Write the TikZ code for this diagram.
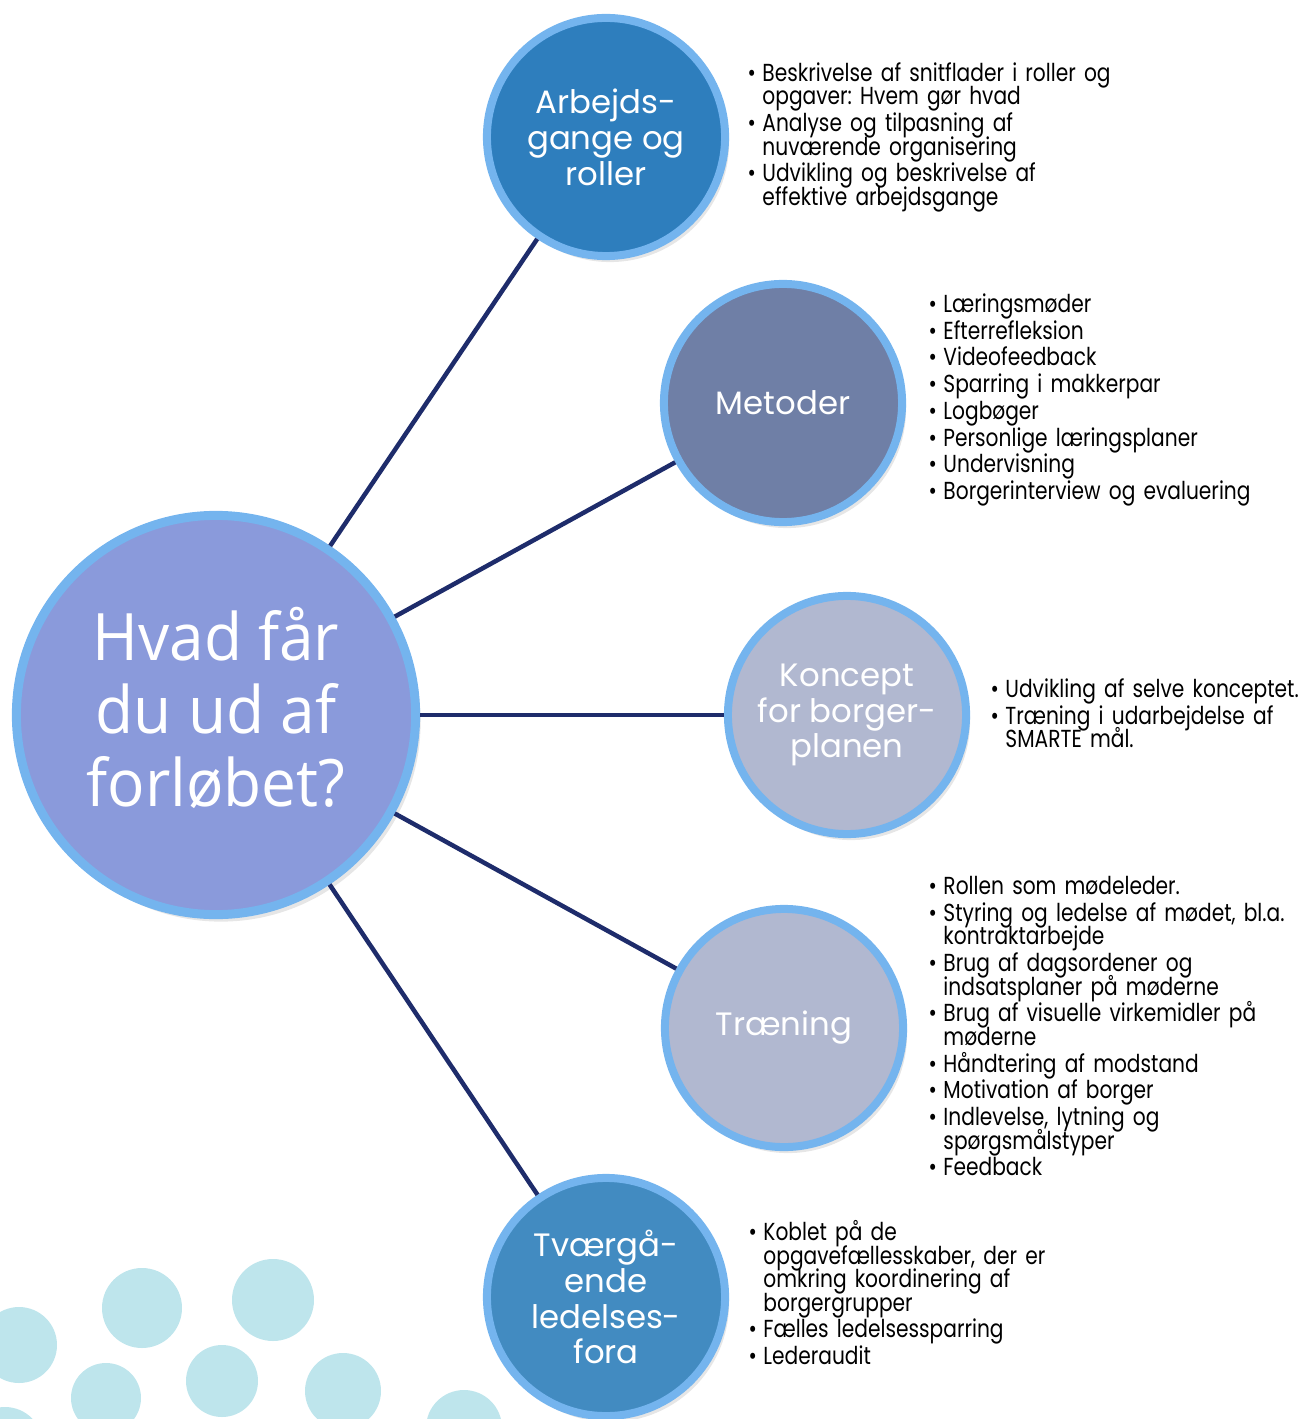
\documentclass[tikz,border=0pt]{standalone}
\usepackage{fontspec}
\setmainfont{Poppins}[FakeStretch=0.82]
\newfontfamily\emnefont{Poppins}
\newfontfamily\hubfont{Open Sans}[FakeStretch=0.95]
\usetikzlibrary{shadows}

\definecolor{ring}{RGB}{116,180,238}
\definecolor{hubfarve}{RGB}{138,154,219}
\definecolor{arbfarve}{RGB}{46,126,189}
\definecolor{metfarve}{RGB}{111,127,166}
\definecolor{lysfarve}{RGB}{177,184,208}
\definecolor{tvfarve}{RGB}{66,139,193}
\definecolor{streg}{RGB}{30,44,107}
\definecolor{prikfarve}{RGB}{190,229,236}

\newcommand{\pkt}{\par\noindent\hangindent=4.2pt\hangafter=1\relax\rule{0pt}{6.5pt}\makebox[4.2pt][l]{\textbullet}}
\newcommand{\listeopsaet}{\frenchspacing\lineskiplimit=-10pt\relax\parskip=0.9pt\relax}

\begin{document}
\begin{tikzpicture}[x=0.01cm,y=-0.01cm,
	hub/.style={circle,draw=ring,line width=0.09cm,fill=hubfarve,minimum size=3.99cm,inner sep=0pt,
		drop shadow={shadow xshift=0.5mm,shadow yshift=-0.7mm,opacity=0.2}},
	hubtekst/.style={align=center,text=white,inner sep=0pt,font=\hubfont\fontsize{18.6}{20.7}\selectfont},
	emne/.style={circle,draw=ring,line width=0.08cm,minimum size=2.38cm,inner sep=0pt,
		align=center,text=white,font=\emnefont\fontsize{9.2}{10.2}\selectfont,
		drop shadow={shadow xshift=0.4mm,shadow yshift=-0.6mm,opacity=0.2}},
	liste/.style={anchor=north west,inner sep=0pt,text width=6cm,
		font=\fontsize{7}{6.7}\selectfont},
	forbind/.style={draw=streg,line width=0.045cm},
	prik/.style={fill=prikfarve}]
		\clip (0,0) rectangle (1300,1419);
%		prikker nederst til venstre
		\fill[prik] (19,1345) circle[radius=38];
		\fill[prik] (142,1308) circle[radius=40];
		\fill[prik] (273,1300) circle[radius=41];
		\fill[prik] (106,1398) circle[radius=35];
		\fill[prik] (222,1381) circle[radius=36];
		\fill[prik] (343,1391) circle[radius=38];
		\fill[prik] (464,1428) circle[radius=38];
		\fill[prik] (5,1445) circle[radius=38];

		\node[hub] (hvad) at (216,715) {};
		\node[hubtekst] (hvadtekst) at (216,708) {Hvad får\\du ud af\\forløbet?};
		\node[emne,fill=arbfarve] (arb) at (606,137) {Arbejds-\\gange og\\roller};
		\node[emne,fill=metfarve] (met) at (783,403) {Metoder};
		\node[emne,fill=lysfarve] (kon) at (847,715) {Koncept\\for borger-\\planen};
		\node[emne,fill=lysfarve] (trae) at (784,1028) {Træning};
		\node[emne,fill=tvfarve] (tvae) at (606,1297) {Tværgå-\\ende\\ledelses-\\fora};

		\foreach \m in {arb,met,kon,trae,tvae}
			\draw[forbind] (hvad) -- (\m);

		\node[liste] (arbliste) at (747,54) {\listeopsaet
			\pkt Beskrivelse af snitflader i roller og\newline opgaver: Hvem gør hvad
			\pkt Analyse og tilpasning af\newline nuværende organisering
			\pkt Udvikling og beskrivelse af\newline effektive arbejdsgange\par};
		\node[liste] (metliste) at (928,285) {\listeopsaet
			\pkt Læringsmøder \pkt Efterrefleksion \pkt Videofeedback
			\pkt Sparring i makkerpar \pkt Logbøger \pkt Personlige læringsplaner
			\pkt Undervisning \pkt Borgerinterview og evaluering\par};
		\node[liste] (konliste) at (990,670) {\listeopsaet
			\pkt Udvikling af selve konceptet.
			\pkt Træning i udarbejdelse af\newline SMARTE mål.\par};
		\node[liste] (traeliste) at (928,867) {\listeopsaet
			\pkt Rollen som mødeleder.
			\pkt Styring og ledelse af mødet, bl.a.\newline kontraktarbejde
			\pkt Brug af dagsordener og\newline indsatsplaner på møderne
			\pkt Brug af visuelle virkemidler på\newline møderne
			\pkt Håndtering af modstand \pkt Motivation af borger
			\pkt Indlevelse, lytning og\newline spørgsmålstyper \pkt Feedback\par};
		\node[liste] (tvaeliste) at (748,1213) {\listeopsaet
			\pkt Koblet på de\newline opgavefællesskaber, der er\newline omkring koordinering af\newline borgergrupper
			\pkt Fælles ledelsessparring \pkt Lederaudit\par};
	\end{tikzpicture}
\end{document}
